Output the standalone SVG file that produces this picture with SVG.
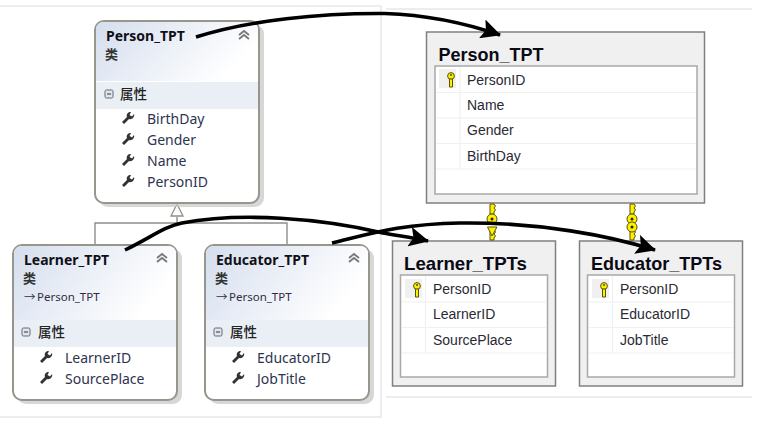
<svg xmlns="http://www.w3.org/2000/svg" width="771" height="423" viewBox="0 0 771 423">
<style>
text{font-family:"Noto Sans","Noto Sans CJK SC",sans-serif;fill:#1c2440}
.t{font-size:14px;font-weight:700;fill:#101018}
.c{font-size:13px;font-weight:700;fill:#333}
.s{font-size:11.5px;fill:#332a44}
.b{font-size:13.5px;font-weight:500;font-family:"Noto Sans CJK SC",sans-serif;fill:#222}
.p{font-size:14px;fill:#2e3450}
.box{fill:#fff;stroke:#96968c;stroke-width:2}
.shadow{fill:#c9c9c9;opacity:.75}
.band{fill:#eaeff6}
.chev{fill:none;stroke:#777;stroke-width:1.8}
.tb{fill:#f0f0f0;stroke:#808080;stroke-width:1.5}
.in{fill:#fff;stroke:#a8a8a8;stroke-width:1.5}
.sep{stroke:#f0f0f0;stroke-width:1.2;fill:none}
.tt{font-family:"Liberation Sans",sans-serif;font-size:19px;font-weight:700;fill:#0a0a14}
.r{font-family:"Liberation Sans",sans-serif;font-size:14px;fill:#2a2a35}
.arrow{fill:none;stroke:#000;stroke-width:3.6}
.frame{stroke:#e8e8e8;stroke-width:1.5;fill:none}
.inh{stroke:#8f8f87;stroke-width:1.4;fill:none}
.k{fill:#ffef00;stroke:#55550a;stroke-width:1}
</style>
<defs>
<linearGradient id="h" x1="0" y1="0" x2="1" y2="0.35"><stop offset="0" stop-color="#d5deee"/><stop offset="1" stop-color="#fff"/></linearGradient>
<marker id="ah" viewBox="0 0 10 10" refX="9.5" refY="5" markerWidth="5.5" markerHeight="5.5" orient="auto"><path d="M0 0L10 5L0 10L2 5Z" fill="#000"/></marker>
<path id="w" d="M0 10L5 5C4 2 6 0 9 0L7.5 3L10 4.5L12 2C13 5 10 8 7 7L2 12Z" fill="#333"/>
<g id="key"><circle cx="5" cy="4" r="3.4" class="k"/><path d="M3.5 7H6.500V15H3.500Z" class="k"/><circle cx="5" cy="3" r="1" fill="#444"/></g>
<path id="chev" class="chev" d="M0 5L5 1L10 5M0 9L5 5L10 9"/>
<g id="minus"><rect width="8" height="8" rx="1.5" fill="#dfe6ee" stroke="#667"/><path d="M2 4H6" stroke="#333"/></g>
<path id="teeth" d="M-2 0H2L3.500 2L2 4L3.500 6L2 8V10H-2Z" class="k"/>
</defs>

<g id="frames">
<path class="frame" d="M0 6H381V417H0"/>
<path class="frame" d="M386 9H752M386 397H752"/>
</g>

<g id="connectors-inherit">
<path class="inh" d="M177 217V223M95 245V223H287V245"/>
<path d="M177 204L183 216H171Z" fill="#fff" stroke="#8f8f87" stroke-width="1.3"/>
</g>

<g id="class-person">
<rect class="shadow" x="99" y="25" width="165" height="182" rx="9"/>
<rect class="box" x="95" y="21" width="164" height="182" rx="9"/>
<path d="M96 81V30Q96 22 104 22H250Q258 22 258 30V81Z" fill="url(#h)"/>
<rect class="band" x="96" y="82" width="162" height="27"/>
<text class="t" x="106" y="41">Person_TPT</text>
<text class="c" x="105" y="59">类</text>
<use href="#chev" x="239" y="30"/>
<use href="#minus" x="105" y="90"/>
<text class="b" x="120" y="99">属性</text>
<use href="#w" x="122" y="112"/><text class="p" x="147" y="124">BirthDay</text>
<use href="#w" x="122" y="133"/><text class="p" x="147" y="145">Gender</text>
<use href="#w" x="122" y="154"/><text class="p" x="147" y="166">Name</text>
<use href="#w" x="122" y="175"/><text class="p" x="147" y="187">PersonID</text>
</g>

<g id="class-learner">
<rect class="shadow" x="17" y="249" width="165" height="155" rx="9"/>
<rect class="box" x="13" y="245" width="164" height="155" rx="9"/>
<path d="M14 320V254Q14 246 22 246H168Q176 246 176 254V320Z" fill="url(#h)"/>
<rect class="band" x="14" y="320" width="162" height="27"/>
<text class="t" x="24" y="265">Learner_TPT</text>
<text class="c" x="23" y="283">类</text>
<text class="s" x="24" y="301">→</text><text class="s" x="37" y="301">Person_TPT</text>
<use href="#chev" x="157" y="253"/>
<use href="#minus" x="22" y="328"/>
<text class="b" x="38" y="337">属性</text>
<use href="#w" x="40" y="351"/><text class="p" x="65" y="363">LearnerID</text>
<use href="#w" x="40" y="372"/><text class="p" x="65" y="384">SourcePlace</text>
</g>

<g id="class-educator">
<rect class="shadow" x="209" y="249" width="165" height="155" rx="9"/>
<rect class="box" x="205" y="245" width="164" height="155" rx="9"/>
<path d="M206 320V254Q206 246 214 246H360Q368 246 368 254V320Z" fill="url(#h)"/>
<rect class="band" x="206" y="320" width="162" height="27"/>
<text class="t" x="216" y="265">Educator_TPT</text>
<text class="c" x="215" y="283">类</text>
<text class="s" x="216" y="301">→</text><text class="s" x="229" y="301">Person_TPT</text>
<use href="#chev" x="349" y="253"/>
<use href="#minus" x="214" y="328"/>
<text class="b" x="230" y="337">属性</text>
<use href="#w" x="232" y="351"/><text class="p" x="257" y="363">EducatorID</text>
<use href="#w" x="232" y="372"/><text class="p" x="257" y="384">JobTitle</text>
</g>

<g id="table-person">
<rect class="tb" x="426.500" y="32" width="278" height="171"/>
<rect class="in" x="435" y="66" width="262" height="128"/>
<rect x="439" y="69" width="17" height="19" fill="#f0f0f0"/>
<path class="sep" d="M436 92.500H696M436 118H696M436 143.500H696M436 169H696M460 67V169"/>
<text class="tt" x="438.500" y="60.500" textLength="105" lengthAdjust="spacingAndGlyphs">Person_TPT</text>
<use href="#key" x="446" y="72"/>
<text class="r" x="467" y="85">PersonID</text>
<text class="r" x="467" y="110">Name</text>
<text class="r" x="467" y="135">Gender</text>
<text class="r" x="467" y="161">BirthDay</text>
</g>

<g id="table-learner">
<rect class="tb" x="392.500" y="241" width="163" height="145"/>
<rect class="in" x="400.500" y="275" width="147" height="102"/>
<rect x="405" y="279" width="17" height="19" fill="#f0f0f0"/>
<path class="sep" d="M402 302H546M402 327.500H546M402 353H546M425.500 276V353"/>
<text class="tt" x="404" y="269.500" textLength="123" lengthAdjust="spacingAndGlyphs">Learner_TPTs</text>
<use href="#key" x="412" y="282"/>
<text class="r" x="433" y="294">PersonID</text>
<text class="r" x="433" y="319">LearnerID</text>
<text class="r" x="433" y="345">SourcePlace</text>
</g>

<g id="table-educator">
<rect class="tb" x="579.500" y="241" width="163" height="145"/>
<rect class="in" x="587.500" y="275" width="147" height="102"/>
<rect x="592" y="279" width="17" height="19" fill="#f0f0f0"/>
<path class="sep" d="M589 302H733M589 327.500H733M589 353H733M612.500 276V353"/>
<text class="tt" x="591" y="269.500" textLength="131" lengthAdjust="spacingAndGlyphs">Educator_TPTs</text>
<use href="#key" x="599" y="282"/>
<text class="r" x="620" y="294">PersonID</text>
<text class="r" x="620" y="319">EducatorID</text>
<text class="r" x="620" y="345">JobTitle</text>
</g>

<g id="connectors">
<g id="fk-learner">
<use href="#teeth" x="492" y="204"/>
<use href="#teeth" x="492" y="230"/>
<circle cx="492" cy="219" r="5" class="k"/><circle cx="492" cy="219" r="1.500" fill="#222"/>
<path d="M487.500 227H497L492 236Z" class="k"/>
</g>
<g id="fk-educator">
<use href="#teeth" x="632" y="204"/>
<use href="#teeth" x="632" y="230"/>
<circle cx="632" cy="219" r="5" class="k"/><circle cx="632" cy="219" r="1.500" fill="#222"/>
<circle cx="632" cy="227" r="5" class="k"/><circle cx="632" cy="227" r="1.500" fill="#222"/>
</g>
<path class="arrow" marker-end="url(#ah)" d="M196 37C250 20 320 13 385 13.500C430 15 465 23 500 35"/>
<path class="arrow" marker-end="url(#ah)" d="M125 250C150 238 165 226 182 223C240 212 320 218 383 233C400 236 415 238 428 241"/>
<path class="arrow" marker-end="url(#ah)" d="M332 243C370 234 400 224 460 223C540 222 610 236 655 250"/>
</g>
</svg>
